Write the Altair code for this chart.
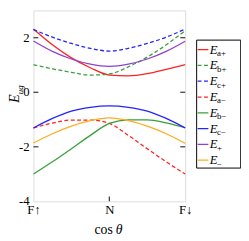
import altair as alt
import pandas as pd

# x positions along the path F↑ -> N -> F↓
X = [0, 0.125, 0.25, 0.375, 0.5, 0.625, 0.75, 0.875, 1]

E_a_plus = [2.32, 1.74, 1.26, 0.90, 0.63, 0.60, 0.68, 0.84, 1.01]
E_b_plus = [1.01, 0.86, 0.73, 0.63, 0.67, 0.93, 1.29, 1.74, 2.26]
E_c_plus = [2.30, 2.02, 1.79, 1.61, 1.51, 1.61, 1.79, 2.02, 2.32]
E_a_minus = [-1.31, -1.13, -1.02, -1.02, -1.14, -1.58, -2.07, -2.55, -3.00]
E_b_minus = [-3.00, -2.55, -2.07, -1.58, -1.14, -1.01, -1.01, -1.12, -1.30]
E_c_minus = [-1.31, -0.96, -0.69, -0.55, -0.50, -0.55, -0.69, -0.96, -1.31]
E_plus = [1.88, 1.50, 1.22, 1.03, 0.95, 1.03, 1.22, 1.50, 1.87]
E_minus = [-1.86, -1.52, -1.24, -1.04, -0.94, -1.04, -1.24, -1.52, -1.87]

names = ["Ea+", "Eb+", "Ec+", "Ea-", "Eb-", "Ec-", "E+", "E-"]
subs = ["a+", "b+", "c+", "a\u2212", "b\u2212", "c\u2212", "+", "\u2212"]
series = [E_a_plus, E_b_plus, E_c_plus, E_a_minus, E_b_minus, E_c_minus, E_plus, E_minus]
colors = ["#ff2020", "#3a9e3a", "#2323ff", "#ff2020", "#3a9e3a", "#2323ff", "#9040d0", "#ffad1f"]
dashed = [False, True, True, True, False, False, False, False]

x_ticks = [0, 0.5, 1]
x_labels = ["F\u2191", "N", "F\u2193"]
y_ticks = [2, 0, -2, -4]
y_labels = ["2", "0", "-2", "-4"]

W, H = 155, 195
SERIF = "Liberation Serif"

xscale = alt.Scale(domain=[0, 1], nice=False)
yscale = alt.Scale(domain=[-4, 3], nice=False)

label_expr = "datum.value == 0 ? '%s' : datum.value == 1 ? '%s' : '%s'" % (x_labels[0], x_labels[2], x_labels[1])

layers = []
for i, (nm, vals) in enumerate(zip(names, series)):
    df = pd.DataFrame({"x": X, "y": vals})
    kw = dict(color=colors[i], strokeWidth=1.3, interpolate="monotone")
    if dashed[i]:
        kw["strokeDash"] = [4, 2.5]
    ch = alt.Chart(df).mark_line(**kw).encode(
        x=alt.X("x:Q", scale=xscale,
                axis=alt.Axis(values=x_ticks, labelExpr=label_expr, title=None,
                              tickSize=0, domain=False, grid=False, labelFont=SERIF,
                              labelFontSize=13, labelColor="black", labelPadding=2,
                              labelFlush=False, labelOverlap=False, labelBound=False)),
        y=alt.Y("y:Q", scale=yscale, axis=None),
    )
    layers.append(ch)

# y tick labels drawn through the y scale
ylab_df = pd.DataFrame({"y": y_ticks, "lab": y_labels})
ylabels = alt.Chart(ylab_df).mark_text(font=SERIF, fontSize=13, align="right", baseline="middle",
                                       color="black").encode(
    y=alt.Y("y:Q", scale=yscale), x=alt.value(-4), text="lab:N")

# inward ticks
ticks_df = pd.DataFrame({"y": y_ticks[:3]})
left_ticks = alt.Chart(ticks_df).mark_rule(color="#333", strokeWidth=1.2).encode(
    y=alt.Y("y:Q", scale=yscale), x=alt.value(0), x2=alt.value(5))
right_ticks = alt.Chart(ticks_df).mark_rule(color="#333", strokeWidth=1.2).encode(
    y=alt.Y("y:Q", scale=yscale), x=alt.value(W - 5), x2=alt.value(W))
bot_ticks = alt.Chart(pd.DataFrame({"x": [x_ticks[1]]})).mark_rule(color="#333", strokeWidth=1.2).encode(
    x=alt.X("x:Q", scale=xscale), y=alt.value(H), y2=alt.value(H - 5))

main = alt.layer(*layers, ylabels, left_ticks, right_ticks, bot_ticks)

# axis titles
one = pd.DataFrame({"a": [0]})
ytitle_E = alt.Chart(one).mark_text(text="E", font=SERIF, fontStyle="italic", fontSize=14,
                                    angle=270, align="center", baseline="middle", color="black").encode(
    x=alt.value(-19), y=alt.value(90))
ytitle_sub = alt.Chart(one).mark_text(text="ug", font=SERIF, fontStyle="italic", fontSize=9,
                                      angle=270, align="center", baseline="middle", color="black").encode(
    x=alt.value(-14), y=alt.value(81))
xtitle_cos = alt.Chart(one).mark_text(text="cos", font=SERIF, fontSize=14, align="right",
                                      baseline="alphabetic", color="black").encode(
    x=alt.value(81), y=alt.value(228))
xtitle_th = alt.Chart(one).mark_text(text="\u03b8", font=SERIF, fontStyle="italic", fontSize=14,
                                     align="left", baseline="alphabetic", color="black").encode(
    x=alt.value(84), y=alt.value(228))

# custom legend
leg_df = pd.DataFrame({"idx": list(range(8)), "name": names, "sub": subs})
lscale = alt.Scale(domain=[0, 7], range=[40, 153])
cscale = alt.Scale(domain=names, range=colors)
dscale = alt.Scale(domain=names, range=[[4, 2.5] if d else [1, 0] for d in dashed])
leg_box = alt.Chart(one).mark_rect(fill="white", stroke="black", strokeWidth=1).encode(
    x=alt.value(166.7), x2=alt.value(211.7), y=alt.value(30.3), y2=alt.value(161))
leg_lines = alt.Chart(leg_df).mark_rule(strokeWidth=1.3).encode(
    x=alt.value(167.7), x2=alt.value(178.7),
    y=alt.Y("idx:Q", scale=lscale, axis=None),
    color=alt.Color("name:N", scale=cscale, legend=None),
    strokeDash=alt.StrokeDash("name:N", scale=dscale, legend=None))
leg_E = alt.Chart(leg_df).mark_text(text="E", font=SERIF, fontStyle="italic", fontSize=13,
                                    align="left", baseline="middle", color="black").encode(
    x=alt.value(180), y=alt.Y("idx:Q", scale=lscale, axis=None))
leg_sub = alt.Chart(leg_df).mark_text(font=SERIF, fontSize=9, align="left", baseline="middle",
                                      dy=3.5, color="black").encode(
    x=alt.value(187.5), y=alt.Y("idx:Q", scale=lscale, axis=None), text="sub:N")
legend = alt.layer(leg_box, leg_lines, leg_E, leg_sub)

chart = alt.layer(main, ytitle_E, ytitle_sub, xtitle_cos, xtitle_th, legend).resolve_scale(
    y="independent", color="independent", strokeDash="independent"
).properties(
    width=W, height=H,
    autosize=alt.AutoSizeParams(type="none"),
    padding={"left": 26, "top": 0, "right": 57, "bottom": 38},
).configure_view(stroke="#333", strokeWidth=1.5).configure(background="white")

chart.save("out.html", embed_options={"renderer": "svg", "actions": False})
